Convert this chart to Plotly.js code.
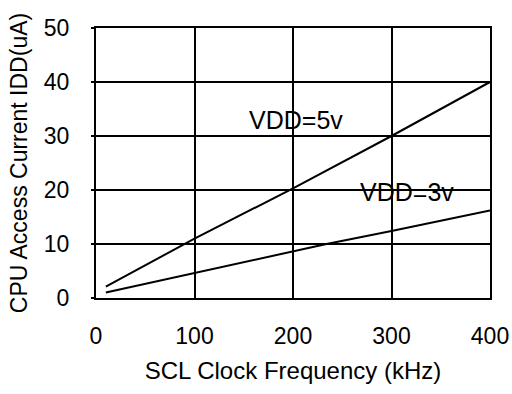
<!DOCTYPE html>
<html><head><meta charset="utf-8">
<script src="https://cdn.plot.ly/plotly-3.0.1.min.js"></script>
<style>body{margin:0;padding:0;background:#fff}#chart{width:512px;height:394px}</style>
</head><body><div id="chart"></div>
<script>
const freq5 = [10, 100, 200, 300, 400];
const idd5 = [2.1, 11.0, 20.3, 30.0, 40.0];
const freq3 = [10, 100, 200, 234, 300, 400];
const idd3 = [1.0, 4.6, 8.6, 10.0, 12.4, 16.2];
const xTicks = [0, 100, 200, 300, 400];
const yTicks = [0, 10, 20, 30, 40, 50];
const labels = [{text: 'VDD=5v', x: 203, y: 33}, {text: 'VDD=3v', x: 316, y: 19.7}];

const fam = 'Liberation Sans, Arial, sans-serif';
const tickFont = {family: fam, color: '#000', size: 23};
const xTitleFont = {family: fam, color: '#000', size: 24};
const yTitleFont = {family: fam, color: '#000', size: 23};
const annFont = {family: fam, color: '#000', size: 25};
const traces = [
  {x: freq5, y: idd5, mode: 'lines', line: {color: '#000', width: 2}, hoverinfo: 'none'},
  {x: freq3, y: idd3, mode: 'lines', line: {color: '#000', width: 2}, hoverinfo: 'none'}
];
const layout = {
  width: 512, height: 394,
  margin: {l: 96, r: 22, t: 28, b: 96},
  paper_bgcolor: '#fff', plot_bgcolor: '#fff',
  showlegend: false,
  font: tickFont,
  xaxis: {
    range: [0, 400], tickvals: xTicks, ticktext: xTicks.map(String),
    showgrid: true, gridcolor: '#000', gridwidth: 2,
    showline: true, linecolor: '#000', linewidth: 2, mirror: true,
    zeroline: false, ticks: '', ticklabelstandoff: 16,
    tickfont: tickFont,
    title: {text: 'SCL Clock Frequency (kHz)', font: xTitleFont, standoff: 15}
  },
  yaxis: {
    range: [0, 50], tickvals: yTicks, ticktext: yTicks.map(String),
    showgrid: true, gridcolor: '#000', gridwidth: 2,
    showline: true, linecolor: '#000', linewidth: 2, mirror: true,
    zeroline: false, ticks: 'outside', ticklen: 3, tickcolor: '#000', tickwidth: 2,
    ticklabelstandoff: 17,
    tickfont: tickFont,
    title: {text: 'CPU Access Current IDD(uA)', font: yTitleFont, standoff: 10}
  },
  annotations: labels.map(a => ({x: a.x, y: a.y, text: a.text, showarrow: false, font: annFont, xref: 'x', yref: 'y'}))
};
Plotly.newPlot('chart', traces, layout, {staticPlot: true, displayModeBar: false});
</script></body></html>
